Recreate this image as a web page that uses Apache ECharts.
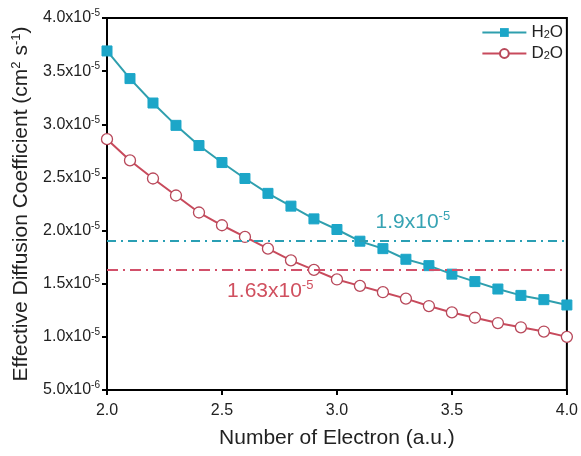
<!DOCTYPE html>
<html>
<head>
<meta charset="utf-8">
<script src="https://cdn.jsdelivr.net/npm/echarts@6/dist/echarts.min.js"></script>
<style>html,body{margin:0;padding:0;background:#fff;}#c{width:581px;height:456px;}</style>
</head>
<body>
<div id="c"></div>
<script>
// values in units of 1e-5 cm^2 s^-1
const electrons = [2.0,2.1,2.2,2.3,2.4,2.5,2.6,2.7,2.8,2.9,3.0,3.1,3.2,3.3,3.4,3.5,3.6,3.7,3.8,3.9,4.0];
const h2o = [3.69,3.43,3.20,2.99,2.80,2.64,2.49,2.35,2.23,2.11,2.01,1.90,1.83,1.73,1.67,1.59,1.52,1.45,1.39,1.35,1.30];
const d2o = [2.86,2.66,2.49,2.33,2.17,2.05,1.94,1.83,1.72,1.63,1.54,1.48,1.42,1.36,1.29,1.23,1.18,1.13,1.09,1.05,1.00];
const h2oRef = 1.9;
const d2oRef = 1.63;
const yTicks = [0.5,1.0,1.5,2.0,2.5,3.0,3.5,4.0];

const FONT = 'Liberation Sans, Arial, sans-serif';
const cyan = '#1ca6c8';
const cyanLine = '#2f9fae';
const red = '#c84a5c';

function yLabel(v){
  if (Math.abs(v-0.5)<1e-9) return '5.0x10{s|-6}';
  return v.toFixed(1)+'x10{s|-5}';
}

const chart = echarts.init(document.getElementById('c'));
chart.setOption({
  backgroundColor:'#fff',
  animation:false,
  grid:{left:107,right:12,top:18,bottom:66,show:true,borderColor:'#000',borderWidth:2},
  legend:{
    right:13, top:19, orient:'vertical', itemGap:4, itemWidth:44, itemHeight:11, itemTextGap:3,
    data:['H2O','D2O'],
    formatter:function(n){return n==='H2O'?'H{sub|2}O':'D{sub|2}O';},
    textStyle:{fontFamily:FONT,fontSize:17,color:'#222',
      rich:{sub:{fontSize:11,fontFamily:FONT,color:'#222',padding:[4,0,0,0]}}}
  },
  xAxis:{
    type:'value', min:2.0, max:4.0, interval:0.5,
    name:'Number of Electron (a.u.)', nameLocation:'middle', nameGap:38,
    nameTextStyle:{fontFamily:FONT,fontSize:21,color:'#222'},
    axisLine:{lineStyle:{color:'#000',width:2}},
    axisTick:{inside:false,length:5,lineStyle:{color:'#000',width:2}},
    axisLabel:{fontFamily:FONT,fontSize:16,color:'#222',margin:13,formatter:v=>v.toFixed(1)},
    splitLine:{show:false}
  },
  yAxis:{
    type:'value', min:0.5, max:4.0, interval:0.5,
    name:'Effective Diffusion Coefficient (cm{s|2} s{s|-1})', nameLocation:'middle', nameGap:72,
    nameTextStyle:{fontFamily:FONT,fontSize:21,color:'#222',
      rich:{s:{fontSize:13,fontFamily:FONT,color:'#222',verticalAlign:'top',padding:[0,0,10,0]}}},
    axisLine:{lineStyle:{color:'#000',width:2}},
    axisTick:{inside:false,length:5,lineStyle:{color:'#000',width:2}},
    axisLabel:{fontFamily:FONT,fontSize:16,color:'#222',margin:7,formatter:yLabel,
      rich:{s:{fontSize:10,fontFamily:FONT,color:'#222',verticalAlign:'top',padding:[0,0,9,0]}}},
    splitLine:{show:false}
  },
  series:[
    {
      name:'H2O', type:'line', data:electrons.map((x,i)=>[x,h2o[i]]),
      symbol:'rect', symbolSize:10, lineStyle:{color:cyanLine,width:2},
      itemStyle:{color:cyan,borderColor:cyan},
      z:3,
      markLine:{silent:true,symbol:'none',label:{show:false},
        lineStyle:{color:'#2a9fb4',width:2,type:[9,5,2,5]},
        data:[{yAxis:h2oRef}]},
      markPoint:{symbol:'circle',symbolSize:0,
        data:[{coord:[3.33,2.08],value:h2oRef}],
        label:{show:true,position:'inside',formatter:'1.9x10{s|-5}',
          fontFamily:FONT,fontSize:21,color:'#36a3b3',
          rich:{s:{fontSize:13,fontFamily:FONT,color:'#36a3b3',verticalAlign:'top',padding:[0,0,11,0]}}}}
    },
    {
      name:'D2O', type:'line', data:electrons.map((x,i)=>[x,d2o[i]]),
      symbol:'circle', symbolSize:11, lineStyle:{color:red,width:2},
      itemStyle:{color:'#fff',borderColor:'#b8485a',borderWidth:1.3},
      z:2,
      markLine:{silent:true,symbol:'none',label:{show:false},
        lineStyle:{color:'#d2506a',width:2,type:[11,5,2,5]},
        data:[{yAxis:d2oRef}]},
      markPoint:{symbol:'circle',symbolSize:0,
        data:[{coord:[2.71,1.43],value:d2oRef}],
        label:{show:true,position:'inside',formatter:'1.63x10{s|-5}',
          fontFamily:FONT,fontSize:21,color:'#d0505f',
          rich:{s:{fontSize:13,fontFamily:FONT,color:'#d0505f',verticalAlign:'top',padding:[0,0,11,0]}}}}
    }
  ]
});
</script>
</body>
</html>
